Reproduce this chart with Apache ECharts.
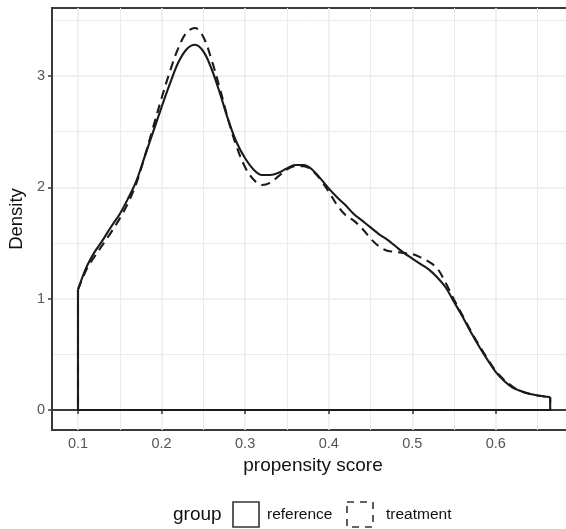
<!DOCTYPE html>
<html>
<head>
<meta charset="utf-8">
<script src="https://cdn.jsdelivr.net/npm/echarts@6/dist/echarts.min.js"></script>
<style>
  html, body { margin: 0; padding: 0; background: #fff; }
  #chart { width: 566px; height: 529px; }
</style>
</head>
<body>
<div id="chart"></div>
<script>
// Propensity score density by group
const scores = [0.100, 0.11, 0.12, 0.13, 0.14, 0.15, 0.16, 0.17, 0.18, 0.19,
  0.20, 0.21, 0.22, 0.23, 0.24, 0.25, 0.26, 0.27, 0.28, 0.29,
  0.30, 0.31, 0.32, 0.33, 0.34, 0.35, 0.36, 0.37, 0.38, 0.39,
  0.40, 0.41, 0.42, 0.43, 0.44, 0.45, 0.46, 0.47, 0.48, 0.49,
  0.50, 0.51, 0.52, 0.53, 0.54, 0.55, 0.56, 0.57, 0.58, 0.59,
  0.60, 0.61, 0.62, 0.63, 0.64, 0.65, 0.665];

const referenceDensity = [1.08, 1.28, 1.42, 1.53, 1.65, 1.76, 1.90, 2.06, 2.28, 2.50,
  2.72, 2.93, 3.12, 3.24, 3.28, 3.22, 3.06, 2.84, 2.60, 2.40,
  2.26, 2.16, 2.11, 2.11, 2.13, 2.17, 2.20, 2.20, 2.16, 2.08,
  1.99, 1.91, 1.84, 1.76, 1.70, 1.64, 1.58, 1.53, 1.47, 1.41,
  1.36, 1.31, 1.26, 1.19, 1.10, 0.97, 0.84, 0.70, 0.57, 0.45,
  0.34, 0.26, 0.20, 0.17, 0.145, 0.13, 0.115];

const treatmentDensity = [1.08, 1.26, 1.38, 1.49, 1.60, 1.72, 1.86, 2.04, 2.28, 2.54,
  2.80, 3.04, 3.25, 3.39, 3.43, 3.35, 3.14, 2.88, 2.60, 2.36,
  2.18, 2.07, 2.02, 2.04, 2.10, 2.16, 2.19, 2.19, 2.15, 2.07,
  1.96, 1.84, 1.75, 1.70, 1.63, 1.54, 1.47, 1.43, 1.42, 1.41,
  1.40, 1.37, 1.33, 1.27, 1.14, 0.99, 0.85, 0.71, 0.58, 0.46,
  0.35, 0.27, 0.21, 0.17, 0.145, 0.13, 0.115];

const xTicks = [0.1, 0.2, 0.3, 0.4, 0.5, 0.6];
const xMinorGrid = [0.15, 0.25, 0.35, 0.45, 0.55, 0.65];
const yTicks = [0, 1, 2, 3];
const yMinorGrid = [0.5, 1.5, 2.5, 3.5];

const groups = ['reference', 'treatment'];

const INK = '#1a1a1a';
const GRID = '#ebebeb';
const FONT = 'Liberation Sans, Arial, sans-serif';

function pairs(xs, ys) { return xs.map((x, i) => [x, ys[i]]); }

// closing sides of a density outline: down at the ends and along the baseline
function outline(xs, ys) {
  const n = xs.length - 1;
  return [[xs[0], ys[0]], [xs[0], 0], [xs[n], 0], [xs[n], ys[n]]];
}

const gridLines = [];
xTicks.forEach(v => gridLines.push({ xAxis: v, lineStyle: { width: 1.5 } }));
xMinorGrid.forEach(v => gridLines.push({ xAxis: v, lineStyle: { width: 1 } }));
yTicks.forEach(v => gridLines.push({ yAxis: v, lineStyle: { width: 1.5 } }));
yMinorGrid.forEach(v => gridLines.push({ yAxis: v, lineStyle: { width: 1 } }));

const chart = echarts.init(document.getElementById('chart'), null, { renderer: 'canvas' });

const styles = {
  reference: { type: 'solid' },
  treatment: { type: [9, 6] }
};
const values = { reference: referenceDensity, treatment: treatmentDensity };

// panel grid drawn underneath everything else
const series = [{
  type: 'line',
  data: [],
  silent: true,
  z: 0,
  markLine: {
    z: 0,
    silent: true,
    symbol: 'none',
    label: { show: false },
    lineStyle: { color: GRID, type: 'solid' },
    emphasis: { disabled: true },
    animation: false,
    data: gridLines
  }
}];

// treatment first so the solid reference outline sits on top
['treatment', 'reference'].forEach((g, k) => {
  series.push({
    name: g,
    type: 'line',
    data: pairs(scores, values[g]),
    smooth: 0.35,
    showSymbol: false,
    z: 10 + k,
    lineStyle: { color: INK, width: 2.1, type: styles[g].type },
    animation: false
  });
  series.push({
    name: g + '-outline',
    type: 'line',
    data: outline(scores, values[g]),
    smooth: false,
    showSymbol: false,
    z: 10 + k,
    lineStyle: { color: INK, width: 2.1, type: styles[g].type },
    animation: false
  });
});

chart.setOption({
  animation: false,
  backgroundColor: '#ffffff',
  textStyle: { fontFamily: FONT },
  grid: {
    left: 52, top: 8, width: 522, height: 422,
    show: true, borderColor: '#3a3a3a', borderWidth: 2,
    backgroundColor: 'transparent',
    outerBoundsMode: 'none'
  },
  xAxis: {
    type: 'value',
    min: 0.0689,
    max: 0.6935,
    name: 'propensity score',
    nameLocation: 'middle',
    nameGap: 23,
    nameTextStyle: { fontSize: 19, color: '#111', fontFamily: FONT },
    axisLine: { show: true, lineStyle: { color: '#3a3a3a', width: 2 } },
    axisTick: { show: true, length: 4, lineStyle: { color: '#3a3a3a', width: 1.5 }, customValues: xTicks },
    axisLabel: { color: '#555', fontSize: 14.5, margin: 6, customValues: xTicks,
      formatter: v => v.toFixed(1) },
    splitLine: { show: false }
  },
  yAxis: {
    type: 'value',
    min: -0.18,
    max: 3.61,
    name: 'Density',
    nameLocation: 'middle',
    nameGap: 22,
    nameRotate: 90,
    nameTextStyle: { fontSize: 18.5, color: '#111', fontFamily: FONT },
    axisLine: { show: true, lineStyle: { color: '#3a3a3a', width: 2 } },
    axisTick: { show: true, length: 4, lineStyle: { color: '#3a3a3a', width: 1.5 }, customValues: yTicks },
    axisLabel: { color: '#555', fontSize: 14.5, margin: 7, customValues: yTicks,
      formatter: v => String(v) },
    splitLine: { show: false }
  },
  legend: { show: false },
  graphic: [
    { type: 'text', left: 173, top: 505, style: { text: 'group', fontSize: 19, fill: '#111', fontFamily: FONT } },
    { type: 'rect', shape: { x: 233, y: 502, width: 26, height: 25 },
      style: { fill: '#fff', stroke: '#333', lineWidth: 1.6 } },
    { type: 'text', left: 267, top: 507, style: { text: groups[0], fontSize: 15.5, fill: '#111', fontFamily: FONT } },
    { type: 'rect', shape: { x: 347, y: 502, width: 26, height: 25 },
      style: { fill: '#fff', stroke: '#333', lineWidth: 1.6, lineDash: [7, 6] } },
    { type: 'text', left: 386, top: 507, style: { text: groups[1], fontSize: 15.5, fill: '#111', fontFamily: FONT } }
  ],
  series: series
});
</script>
</body>
</html>
